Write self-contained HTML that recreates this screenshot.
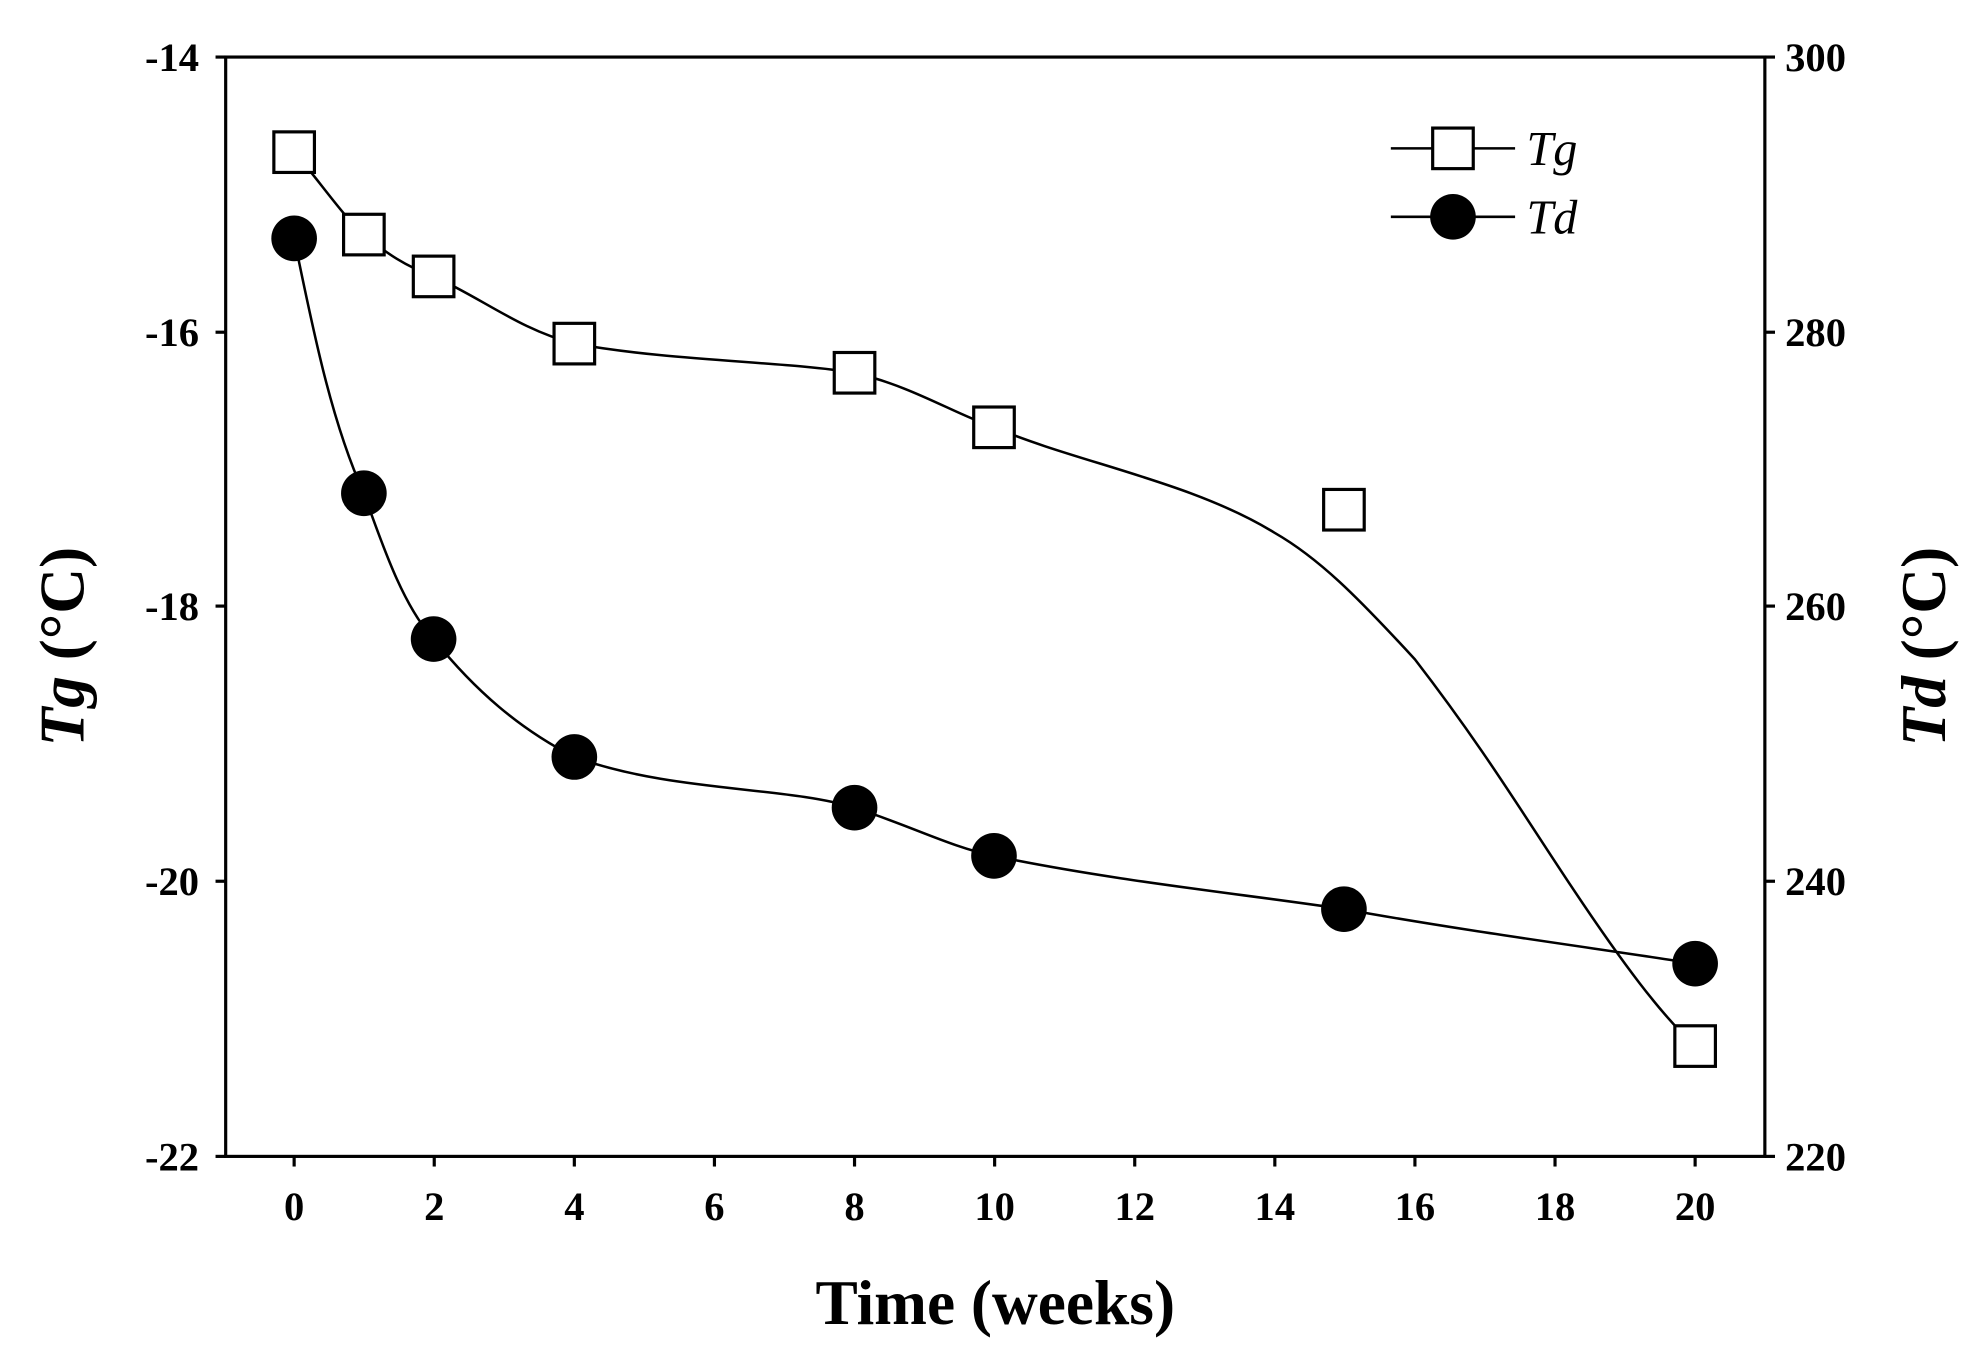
<!DOCTYPE html>
<html><head><style>html,body{margin:0;padding:0;background:#fff}svg{display:block}</style></head><body>
<svg width="1988" height="1358" viewBox="0 0 1568 1071" preserveAspectRatio="none" xmlns="http://www.w3.org/2000/svg" font-family="Liberation Serif, serif">
<rect x="178" y="45" width="1214" height="867" fill="none" stroke="#000" stroke-width="2.5"/>
<g stroke="#000" stroke-width="2.5">
<line x1="170" y1="45" x2="178" y2="45"/><line x1="170" y1="262" x2="178" y2="262"/><line x1="170" y1="478" x2="178" y2="478"/><line x1="170" y1="695" x2="178" y2="695"/><line x1="170" y1="912" x2="178" y2="912"/>
<line x1="1392" y1="45" x2="1400" y2="45"/><line x1="1392" y1="262" x2="1400" y2="262"/><line x1="1392" y1="478" x2="1400" y2="478"/><line x1="1392" y1="695" x2="1400" y2="695"/><line x1="1392" y1="912" x2="1400" y2="912"/>
<line x1="232" y1="912" x2="232" y2="920"/><line x1="342.5" y1="912" x2="342.5" y2="920"/><line x1="453" y1="912" x2="453" y2="920"/><line x1="563.5" y1="912" x2="563.5" y2="920"/><line x1="674" y1="912" x2="674" y2="920"/><line x1="784.5" y1="912" x2="784.5" y2="920"/><line x1="895" y1="912" x2="895" y2="920"/><line x1="1005.5" y1="912" x2="1005.5" y2="920"/><line x1="1116" y1="912" x2="1116" y2="920"/><line x1="1226.5" y1="912" x2="1226.5" y2="920"/><line x1="1337" y1="912" x2="1337" y2="920"/>
</g>
<g font-size="32" font-weight="bold" text-anchor="end">
<text x="157" y="56">-14</text><text x="157" y="273">-16</text><text x="157" y="489">-18</text><text x="157" y="706">-20</text><text x="157" y="923">-22</text>
</g>
<g font-size="32" font-weight="bold" text-anchor="start">
<text x="1408" y="56">300</text><text x="1408" y="273">280</text><text x="1408" y="489">260</text><text x="1408" y="706">240</text><text x="1408" y="923">220</text>
</g>
<g font-size="32" font-weight="bold" text-anchor="middle">
<text x="232" y="962">0</text><text x="342.5" y="962">2</text><text x="453" y="962">4</text><text x="563.5" y="962">6</text><text x="674" y="962">8</text><text x="784.5" y="962">10</text><text x="895" y="962">12</text><text x="1005.5" y="962">14</text><text x="1116" y="962">16</text><text x="1226.5" y="962">18</text><text x="1337" y="962">20</text>
</g>
<text x="785" y="1044" font-size="50" font-weight="bold" text-anchor="middle">Time (weeks)</text>
<text transform="translate(66,510) rotate(-90)" font-size="50" font-weight="bold" text-anchor="middle"><tspan font-style="italic">Tg</tspan> (°C)</text>
<text transform="translate(1534,510) rotate(-90)" font-size="50" font-weight="bold" text-anchor="middle"><tspan font-style="italic">Td</tspan> (°C)</text>
<g fill="none" stroke="#000" stroke-width="2">
<path d="M232,120 C250,140 270,170 287,185 C305,200 320,210 342,218 C380,235 410,260 453,271 C530,285 620,285 674,294 C720,305 750,325 784,337 C850,365 940,380 1005,420 C1040,440 1070,470 1116,520 C1170,590 1200,640 1240,700 C1280,760 1310,800 1337,825"/>
<path d="M232,188 C245,250 260,330 287,389 C305,440 320,480 342,504 C375,545 410,575 453,597 C530,625 620,620 674,637 C720,652 750,668 784,675 C880,695 980,705 1060,717 C1160,735 1260,748 1337,760"/>
<line x1="1097" y1="117" x2="1195" y2="117"/>
<line x1="1097" y1="171" x2="1195" y2="171"/>
</g>
<g fill="#fff" stroke="#000" stroke-width="2.5">
<rect x="216" y="104" width="32" height="32"/><rect x="271" y="169" width="32" height="32"/><rect x="326" y="202" width="32" height="32"/><rect x="437" y="255" width="32" height="32"/><rect x="658" y="278" width="32" height="32"/><rect x="768" y="321" width="32" height="32"/><rect x="1044" y="386" width="32" height="32"/><rect x="1321" y="809" width="32" height="32"/>
<rect x="1130" y="101" width="32" height="32"/>
</g>
<g fill="#000">
<circle cx="232" cy="188" r="18"/><circle cx="287" cy="389" r="18"/><circle cx="342" cy="504" r="18"/><circle cx="453" cy="597" r="18"/><circle cx="674" cy="637" r="18"/><circle cx="784" cy="675" r="18"/><circle cx="1060" cy="717" r="18"/><circle cx="1337" cy="760" r="18"/>
<circle cx="1146" cy="171" r="18"/>
</g>
<g font-size="38" font-style="italic">
<text x="1204" y="130">Tg</text><text x="1204" y="184">Td</text>
</g>
</svg>
</body></html>
